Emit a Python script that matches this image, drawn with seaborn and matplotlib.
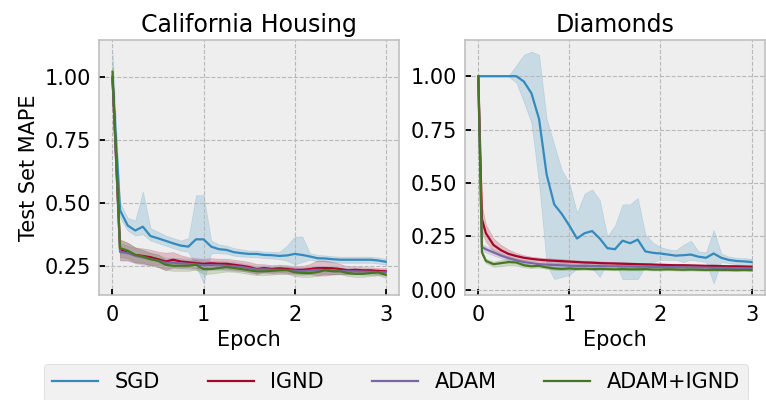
import numpy as np
import pandas as pd
import seaborn as sns
import matplotlib.pyplot as plt

## data (mean curve + band) ##
methods = ["SGD", "IGND", "ADAM", "ADAM+IGND"]
colors = ["#348ABD", "#A60628", "#7A68A6", "#467821"]

# California Housing: evaluated every 1/12 epoch
cal_epoch = np.arange(37) / 12

sgd_cal = [0.99, 0.47, 0.41, 0.39, 0.405, 0.368, 0.359, 0.349, 0.339, 0.330, 0.326, 0.355, 0.355,
           0.326, 0.316, 0.313, 0.304, 0.300, 0.297, 0.297, 0.293, 0.292, 0.289, 0.291, 0.297,
           0.293, 0.287, 0.280, 0.279, 0.276, 0.274, 0.274, 0.274, 0.274, 0.274, 0.271, 0.266]
sgd_cal_lo = [0.93, 0.44, 0.39, 0.37, 0.375, 0.35, 0.34, 0.33, 0.32, 0.31, 0.305, 0.25, 0.18,
              0.30, 0.30, 0.298, 0.29, 0.287, 0.285, 0.284, 0.28, 0.279, 0.276, 0.27, 0.255,
              0.265, 0.274, 0.268, 0.267, 0.264, 0.262, 0.262, 0.262, 0.262, 0.262, 0.259, 0.254]
sgd_cal_hi = [1.10, 0.50, 0.44, 0.43, 0.545, 0.40, 0.385, 0.37, 0.36, 0.35, 0.36, 0.53, 0.53,
              0.35, 0.335, 0.33, 0.32, 0.315, 0.31, 0.31, 0.306, 0.305, 0.305, 0.33, 0.366,
              0.366, 0.30, 0.293, 0.291, 0.288, 0.286, 0.286, 0.286, 0.286, 0.286, 0.283, 0.278]

ignd_cal = [1.00, 0.313, 0.307, 0.293, 0.289, 0.284, 0.276, 0.267, 0.274, 0.267, 0.264, 0.260, 0.258,
            0.260, 0.258, 0.258, 0.254, 0.250, 0.245, 0.237, 0.241, 0.237, 0.240, 0.237, 0.234,
            0.234, 0.237, 0.241, 0.241, 0.240, 0.237, 0.232, 0.234, 0.232, 0.232, 0.229, 0.228]
ignd_cal_sd = [0.02, 0.04, 0.035, 0.03, 0.03, 0.03, 0.03, 0.035, 0.03, 0.025, 0.02, 0.02, 0.02,
               0.02, 0.02, 0.02, 0.02, 0.02, 0.02, 0.02, 0.015, 0.015, 0.015, 0.015, 0.015,
               0.015, 0.02, 0.03, 0.03, 0.025, 0.02, 0.015, 0.015, 0.012, 0.012, 0.012, 0.012]

adam_cal = [1.00, 0.305, 0.300, 0.290, 0.283, 0.277, 0.270, 0.262, 0.262, 0.260, 0.258, 0.255, 0.252,
            0.252, 0.252, 0.250, 0.248, 0.245, 0.240, 0.235, 0.236, 0.234, 0.234, 0.233, 0.230,
            0.229, 0.231, 0.234, 0.233, 0.232, 0.230, 0.228, 0.228, 0.227, 0.226, 0.225, 0.224]
adam_cal_sd = [0.02, 0.035, 0.03, 0.03, 0.03, 0.025, 0.025, 0.02, 0.02, 0.02, 0.02, 0.02, 0.02,
               0.018, 0.018, 0.018, 0.018, 0.015, 0.015, 0.015, 0.015, 0.015, 0.015, 0.015, 0.015,
               0.015, 0.015, 0.015, 0.015, 0.015, 0.012, 0.012, 0.012, 0.012, 0.012, 0.012, 0.012]

green_cal = [1.02, 0.32, 0.31, 0.293, 0.287, 0.276, 0.270, 0.254, 0.250, 0.250, 0.250, 0.254, 0.237,
             0.237, 0.241, 0.245, 0.241, 0.237, 0.232, 0.228, 0.228, 0.230, 0.232, 0.233, 0.224,
             0.221, 0.221, 0.225, 0.232, 0.228, 0.228, 0.221, 0.218, 0.218, 0.221, 0.224, 0.214]
green_cal_sd = [0.02, 0.035, 0.03, 0.03, 0.025, 0.025, 0.025, 0.02, 0.02, 0.02, 0.02, 0.02, 0.02,
                0.018, 0.018, 0.018, 0.015, 0.015, 0.015, 0.015, 0.015, 0.015, 0.015, 0.015, 0.015,
                0.015, 0.015, 0.015, 0.015, 0.012, 0.012, 0.012, 0.012, 0.012, 0.012, 0.012, 0.012]

# Diamonds: one early evaluation, then every 1/12 epoch
dia_epoch = np.r_[0, 0.04, np.arange(1, 37) / 12]

sgd_dia = [1.0, 1.0, 1.0, 1.0, 1.0, 1.0, 1.0, 0.975, 0.92, 0.80, 0.54, 0.40, 0.355, 0.30,
           0.24, 0.265, 0.275, 0.24, 0.195, 0.19, 0.23, 0.218, 0.235, 0.18, 0.173, 0.17,
           0.165, 0.16, 0.162, 0.165, 0.155, 0.15, 0.17, 0.15, 0.14, 0.135, 0.133, 0.13]
sgd_dia_lo = [0.998, 0.998, 0.998, 0.998, 0.998, 0.998, 0.97, 0.88, 0.78, 0.50, 0.12, 0.05, 0.06, 0.07,
              0.10, 0.12, 0.10, 0.06, 0.13, 0.13, 0.05, 0.05, 0.05, 0.11, 0.13, 0.14,
              0.14, 0.14, 0.13, 0.14, 0.135, 0.13, 0.03, 0.13, 0.125, 0.12, 0.118, 0.115]
sgd_dia_hi = [1.002, 1.002, 1.002, 1.002, 1.002, 1.002, 1.05, 1.10, 1.115, 1.10, 0.80, 0.68, 0.56, 0.50,
              0.36, 0.45, 0.47, 0.42, 0.25, 0.30, 0.40, 0.40, 0.43, 0.26, 0.22, 0.20,
              0.19, 0.185, 0.21, 0.23, 0.18, 0.175, 0.28, 0.17, 0.155, 0.15, 0.148, 0.145]

ignd_dia = [1.0, 0.33, 0.265, 0.21, 0.185, 0.168, 0.158, 0.150, 0.145, 0.141, 0.138, 0.136, 0.134,
            0.132, 0.130, 0.128, 0.127, 0.125, 0.124, 0.123, 0.122, 0.121, 0.120, 0.119, 0.118,
            0.117, 0.116, 0.115, 0.115, 0.114, 0.113, 0.112, 0.112, 0.111, 0.110, 0.110, 0.109, 0.108]
ignd_dia_sd = [0.0, 0.06, 0.04, 0.03, 0.025, 0.02, 0.015, 0.012, 0.01, 0.01, 0.01, 0.01, 0.01,
               0.008, 0.008, 0.008, 0.008, 0.008, 0.007, 0.007, 0.007, 0.007, 0.006, 0.006, 0.006,
               0.006, 0.006, 0.006, 0.006, 0.006, 0.006, 0.006, 0.006, 0.006, 0.006, 0.006, 0.006, 0.006]

adam_dia = [1.0, 0.20, 0.19, 0.175, 0.16, 0.148, 0.138, 0.130, 0.125, 0.120, 0.118, 0.116, 0.115,
            0.113, 0.112, 0.112, 0.111, 0.111, 0.110, 0.110, 0.109, 0.109, 0.108, 0.108, 0.107,
            0.107, 0.106, 0.106, 0.105, 0.105, 0.104, 0.104, 0.103, 0.103, 0.102, 0.101, 0.101, 0.100]
adam_dia_sd = [0.0, 0.015, 0.015, 0.014, 0.012, 0.011, 0.01, 0.01, 0.009, 0.008, 0.008, 0.007, 0.007,
               0.007, 0.006, 0.006, 0.006, 0.006, 0.006, 0.006, 0.006, 0.006, 0.006, 0.006, 0.006,
               0.006, 0.006, 0.006, 0.006, 0.006, 0.006, 0.006, 0.006, 0.006, 0.006, 0.006, 0.006, 0.006]

green_dia = [1.0, 0.175, 0.135, 0.12, 0.125, 0.13, 0.128, 0.115, 0.11, 0.112, 0.105, 0.10, 0.098,
             0.10, 0.098, 0.099, 0.097, 0.098, 0.097, 0.096, 0.097, 0.096, 0.096, 0.097, 0.095,
             0.095, 0.096, 0.095, 0.094, 0.095, 0.094, 0.093, 0.094, 0.093, 0.093, 0.092, 0.093, 0.092]
green_dia_sd = [0.0, 0.01, 0.01, 0.012, 0.015, 0.015, 0.015, 0.01, 0.008, 0.008, 0.007, 0.006, 0.006,
                0.006, 0.006, 0.006, 0.005, 0.005, 0.005, 0.005, 0.005, 0.005, 0.005, 0.005, 0.005,
                0.005, 0.005, 0.005, 0.005, 0.005, 0.005, 0.005, 0.005, 0.005, 0.005, 0.005, 0.005, 0.005]


def band_rows(dataset, method, epoch, lo, mid, hi):
    # three rows per step: median gives the curve, the 100% interval gives the band
    out = []
    for e, a, m, b in zip(epoch, lo, mid, hi):
        for v in (a, m, b):
            out.append({"dataset": dataset, "method": method, "epoch": e, "mape": v})
    return out


def sym(mid, sd):
    mid = np.array(mid)
    sd = np.array(sd)
    return mid - sd, mid, mid + sd


rows = []
rows += band_rows("California Housing", "SGD", cal_epoch, sgd_cal_lo, sgd_cal, sgd_cal_hi)
rows += band_rows("California Housing", "IGND", cal_epoch, *sym(ignd_cal, ignd_cal_sd))
rows += band_rows("California Housing", "ADAM", cal_epoch, *sym(adam_cal, adam_cal_sd))
rows += band_rows("California Housing", "ADAM+IGND", cal_epoch, *sym(green_cal, green_cal_sd))
rows += band_rows("Diamonds", "SGD", dia_epoch, sgd_dia_lo, sgd_dia, sgd_dia_hi)
rows += band_rows("Diamonds", "IGND", dia_epoch, *sym(ignd_dia, ignd_dia_sd))
rows += band_rows("Diamonds", "ADAM", dia_epoch, *sym(adam_dia, adam_dia_sd))
rows += band_rows("Diamonds", "ADAM+IGND", dia_epoch, *sym(green_dia, green_dia_sd))
df = pd.DataFrame(rows)

## style ##
plt.style.use("bmh")
plt.rcParams.update({
    "axes.edgecolor": "#bcbcbc",
    "axes.linewidth": 1.1,
    "grid.linewidth": 0.8,
    "grid.color": "#b8b8b8",
    "xtick.direction": "in",
    "ytick.direction": "in",
    "xtick.major.size": 4.5,
    "ytick.major.size": 4.5,
    "xtick.major.width": 1.3,
    "ytick.major.width": 1.3,
    "xtick.major.pad": 7,
    "ytick.major.pad": 5.5,
    "xtick.labelsize": 15,
    "ytick.labelsize": 15,
    "font.family": ["DejaVu Sans"],
})

fig, axes = plt.subplots(1, 2, figsize=(7.66, 4), dpi=100)
fig.subplots_adjust(left=0.129, right=0.999, top=0.9, bottom=0.2625, wspace=0.217)

palette = dict(zip(methods, colors))
for ax, name in zip(axes, ["California Housing", "Diamonds"]):
    sns.lineplot(data=df[df["dataset"] == name], x="epoch", y="mape", hue="method",
                 hue_order=methods, palette=palette, estimator="median",
                 errorbar=("pi", 100), linewidth=1.6, ax=ax)
    ax.set_title(name, fontsize=17)
    ax.set_xlabel("Epoch", fontsize=15)
    ax.set_ylabel("")
    ax.set_xticks([0, 1, 2, 3])

axes[0].set_ylabel("Test Set MAPE", fontsize=15)
axes[0].set_yticks([0.25, 0.50, 0.75, 1.00])
axes[1].set_yticks([0.0, 0.25, 0.50, 0.75, 1.00])
for ax in axes:
    ax.yaxis.set_major_formatter(plt.FormatStrFormatter("%.2f"))

handles, labels = axes[0].get_legend_handles_labels()
for ax in axes:
    ax.get_legend().remove()
fig.legend(handles, labels, loc="upper center", bbox_to_anchor=(0.517, 0.09),
           borderaxespad=0, ncol=4, fontsize=15, frameon=True,
           handlelength=2.2, columnspacing=2.3)

fig.savefig("out.png", dpi=100)
